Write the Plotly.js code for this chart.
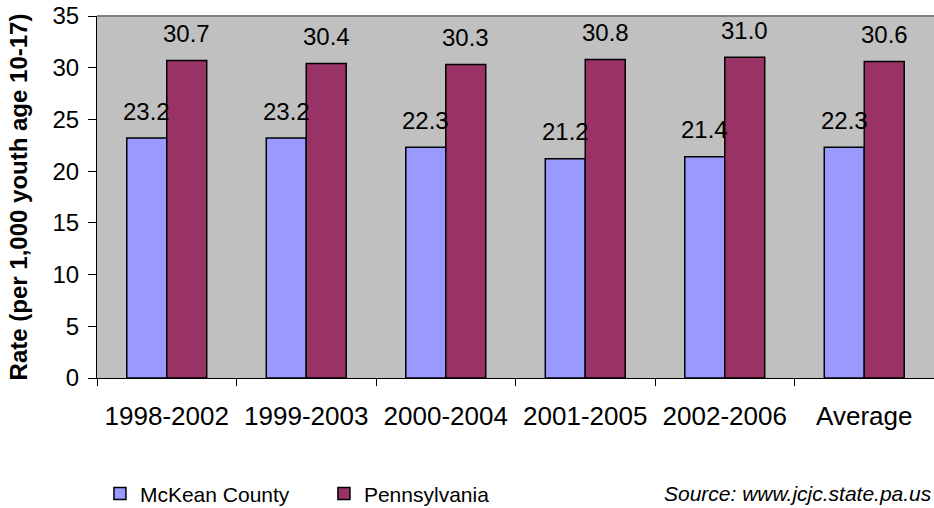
<!DOCTYPE html>
<html>
<head>
<meta charset="utf-8">
<script src="https://cdn.plot.ly/plotly-3.0.1.min.js"></script>
<style>
  html, body { margin: 0; padding: 0; background: #ffffff; }
  #chart { width: 934px; height: 508px; }
</style>
</head>
<body>
<div id="chart"></div>
<script>
// Juvenile arrest rates, per 1,000 youth age 10-17, five-year windows
const periods = ['1998-2002', '1999-2003', '2000-2004', '2001-2005', '2002-2006', 'Average'];
const mckean = [23.2, 23.2, 22.3, 21.2, 21.4, 22.3];
const pennsylvania = [30.7, 30.4, 30.3, 30.8, 31.0, 30.6];
const yTicks = [0, 5, 10, 15, 20, 25, 30, 35];

const FONT = 'Arial, "Liberation Sans", sans-serif';
const BAR_LINE = { color: '#000000', width: 1.5 };

const traces = [
  {
    type: 'bar', name: 'McKean County', x: periods, y: mckean,
    marker: { color: '#9999FF', line: BAR_LINE },
    hoverinfo: 'x+y'
  },
  {
    type: 'bar', name: 'Pennsylvania', x: periods, y: pennsylvania,
    marker: { color: '#993366', line: BAR_LINE },
    hoverinfo: 'x+y'
  }
];

// Value labels floating above each bar (bars are 40px wide, side by side)
function valueLabels(values, shift) {
  return values.map((v, i) => ({
    xref: 'x', yref: 'y', x: periods[i], y: v,
    xshift: shift, yshift: 27,
    xanchor: 'center', yanchor: 'middle',
    text: v.toFixed(1), showarrow: false,
    font: { family: FONT, size: 24, color: '#000000' }
  }));
}

const layout = {
  width: 934, height: 508,
  margin: { l: 97, r: 0, t: 16, b: 130 },
  paper_bgcolor: '#ffffff',
  plot_bgcolor: '#C0C0C0',
  font: { family: FONT, color: '#000000' },
  barmode: 'group',
  bargap: 0.427,
  bargroupgap: 0,
  showlegend: true,
  legend: {
    orientation: 'h', xref: 'container', yref: 'container',
    x: 0.107, y: 0.028, xanchor: 'left', yanchor: 'middle',
    entrywidth: 179, entrywidthmode: 'pixels',
    font: { family: FONT, size: 21, color: '#000000' },
    bgcolor: 'rgba(0,0,0,0)'
  },
  xaxis: {
    type: 'category',
    showgrid: false, zeroline: false,
    showline: true, linecolor: '#000000', linewidth: 1,
    ticks: 'outside', tickson: 'boundaries', ticklen: 7, tickcolor: '#000000',
    ticklabelstandoff: 15,
    tickfont: { family: FONT, size: 26, color: '#000000' }
  },
  yaxis: {
    range: [0, 35], tickvals: yTicks,
    showgrid: false, zeroline: false,
    showline: true, linecolor: '#000000', linewidth: 1,
    ticks: 'outside', ticklen: 8, tickcolor: '#000000',
    ticklabelstandoff: 4,
    tickfont: { family: FONT, size: 24, color: '#000000' },
    title: {
      text: '<b>Rate (per 1,000 youth age 10-17)</b>',
      standoff: 18,
      font: { family: FONT, size: 24, color: '#000000' }
    }
  },
  shapes: [
    // thin gray border along the top of the plot area
    { type: 'line', xref: 'paper', yref: 'paper', x0: 0, x1: 1, y0: 1, y1: 1,
      line: { color: '#808080', width: 2 } }
  ],
  annotations: valueLabels(mckean, -20).concat(valueLabels(pennsylvania, 20), [
    { xref: 'paper', yref: 'paper', x: 1, y: -0.32, xanchor: 'right', yanchor: 'middle',
      text: '<i>Source: www.jcjc.state.pa.us</i>', showarrow: false,
      font: { family: FONT, size: 21, color: '#000000' } }
  ])
};

Plotly.newPlot('chart', traces, layout, { displayModeBar: false, staticPlot: true });
</script>
</body>
</html>
